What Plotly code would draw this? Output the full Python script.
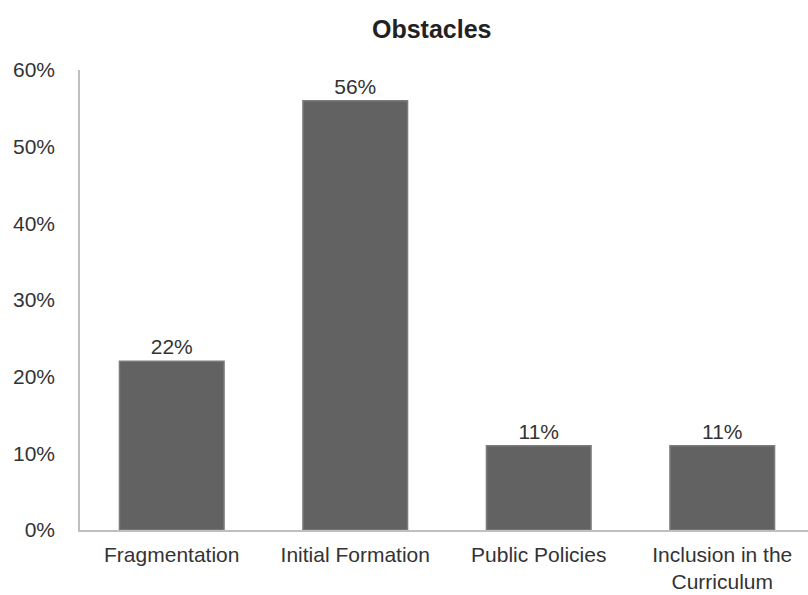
import plotly.graph_objects as go

categories = ["Fragmentation", "Initial Formation", "Public Policies", "Inclusion in the<br>Curriculum"]
values = [22, 56, 11, 11]
labels = ["22%", "56%", "11%", "11%"]
y_ticks = [0, 10, 20, 30, 40, 50, 60]
y_tick_text = ["0%", "10%", "20%", "30%", "40%", "50%", "60%"]

font_family = "Liberation Sans, Arial, sans-serif"

fig = go.Figure()
fig.add_trace(go.Bar(
    x=categories,
    y=values,
    text=labels,
    textposition="outside",
    textfont=dict(family=font_family, size=21, color="#333333"),
    cliponaxis=False,
    width=0.57,
    marker=dict(color="#626262", line=dict(color="#7c7c7c", width=1.5)),
    hoverinfo="skip",
))

fig.update_layout(
    width=808,
    height=595,
    margin=dict(l=80, r=0, t=70, b=65),
    paper_bgcolor="white",
    plot_bgcolor="white",
    showlegend=False,
    font=dict(family=font_family, size=20, color="#333333"),
    annotations=[dict(
        text="<b>Obstacles</b>",
        xref="paper", yref="paper",
        x=(432 - 80) / 728, y=1 + (70 - 29) / 460,
        xanchor="center", yanchor="middle",
        showarrow=False, font=dict(family=font_family, size=25, color="#222222"),
    )],
)

fig.update_xaxes(
    range=[-0.5, -0.5 + 728 / 183.5],
    showline=True, linecolor="#bfbfbf", linewidth=1.5,
    showgrid=False, ticks="", ticklabelstandoff=5, automargin=False,
    tickfont=dict(family=font_family, size=21, color="#333333"),
)
fig.update_yaxes(
    range=[0, 60],
    tickvals=y_ticks, ticktext=y_tick_text,
    showline=True, linecolor="#bfbfbf", linewidth=1.5,
    showgrid=False, zeroline=False, automargin=False,
    ticks="", ticklabelstandoff=19,
    tickfont=dict(family=font_family, size=21, color="#333333"),
)

fig.write_html("out.html")
